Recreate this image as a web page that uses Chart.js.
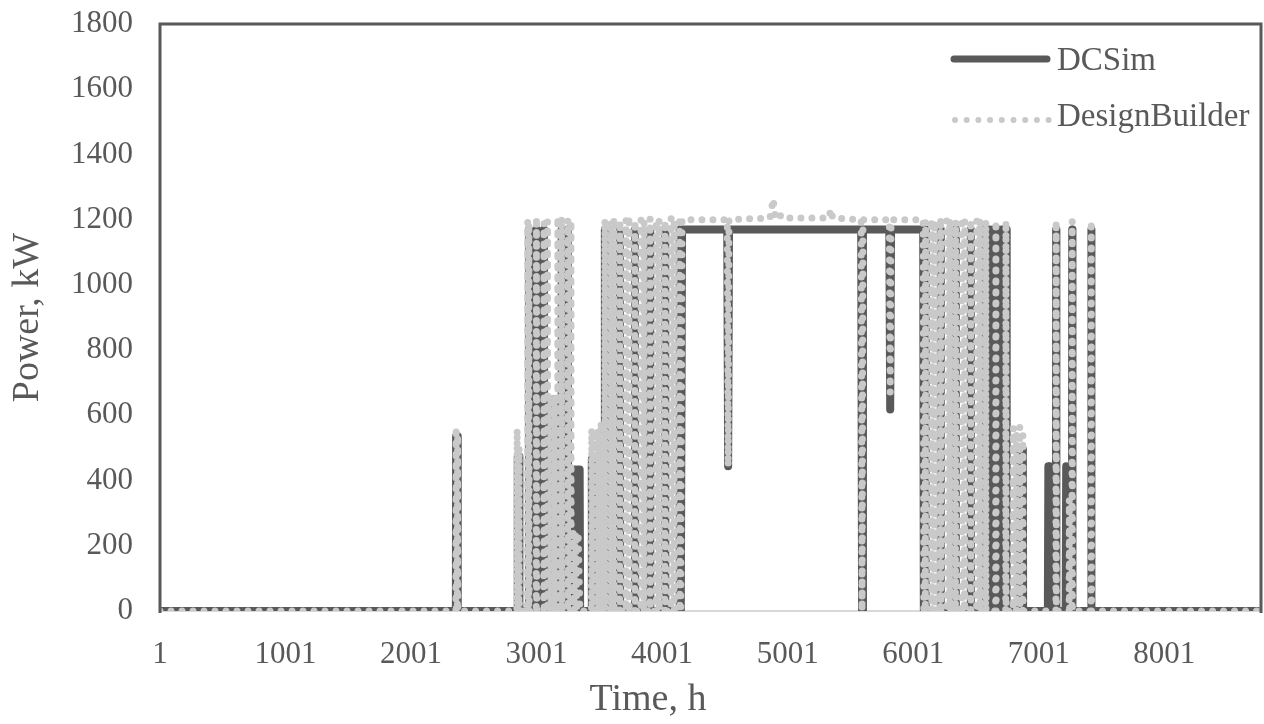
<!DOCTYPE html>
<html>
<head>
<meta charset="utf-8">
<script src="https://cdn.jsdelivr.net/npm/chart.js@4.4.1/dist/chart.umd.min.js"></script>
<style>
  html, body { margin: 0; padding: 0; background: #fff; }
  #wrap { width: 1264px; height: 724px; }
</style>
</head>
<body>
<div id="wrap"><canvas id="powerChart" width="1264" height="724"></canvas></div>
<script>
// x axis tick labels (hour of year)
const xTickValues = [1, 1001, 2001, 3001, 4001, 5001, 6001, 7001, 8001];

// DCSim: baseline, plateau and bar vertices (hour, kW)
const dcHours = [
  1,
  3282, 3288, 3298, 3308, 3318, 3328, 3338, 3344, 3348,
  4150, 4160, 4520, 4527, 4534, 5587, 5594, 5601, 5811, 5818, 5825, 6081, 6086,
  7074, 7078, 7084, 7088,
  7216, 7220, 7226, 7230,
  8760
];
const dcPower = [
  0,
  0, 434, 241, 434, 241, 434, 241, 434, 0,
  0, 1170, 1170, 444, 1170, 1170, 0, 1170, 1170, 618, 1170, 1170, 0,
  0, 444, 444, 0,
  0, 444, 444, 0,
  0
];
// DCSim: daily peaks (hour, kW)
const dcSpikeHours = [
  2360, 2372,
  2850, 2862,
  2940, 3000, 3060,
  3140, 3200, 3250,
  3440, 3490,
  3545, 3665, 3785, 3905, 4025, 4140,
  6100, 6220, 6340, 6460,
  6560, 6584, 6608, 6632, 6656, 6680, 6704, 6728, 6745,
  6850, 6875,
  7140, 7268, 7420
];
const dcSpikePeaks = [
  536, 536,
  474, 474,
  1170, 1170, 1170,
  650, 1170, 1170,
  465, 465,
  1170, 1170, 1170, 1170, 1170, 1170,
  1170, 1170, 1170, 1170,
  1170, 1170, 1170, 1170, 1170, 1170, 1170, 1170, 1170,
  496, 496,
  1170, 1170, 1170
];

// DesignBuilder: baseline, plateau and bar vertices (hour, kW)
const dbHours = [
  1,
  3284, 3292, 3302, 3312, 3322, 3332, 3346,
  4150, 4160, 4520, 4527, 4534, 4860, 4886, 4900, 4930, 4950, 5330, 5345, 5360,
  5587, 5594, 5601, 5811, 5818, 5825, 6081, 6086,
  8760
];
const dbPower = [
  0,
  0, 240, 0, 240, 0, 240, 0,
  0, 1200, 1200, 444, 1200, 1205, 1263, 1215, 1227, 1205, 1205, 1232, 1205,
  1200, 0, 1200, 1200, 670, 1200, 1200, 0,
  0
];
// DesignBuilder: daily peaks (hour, kW)
const dbSpikeHours = [
  2360, 2372,
  2846, 2862,
  2930, 2940, 3000, 3060, 3088,
  3115, 3140, 3170, 3200, 3250, 3275,
  3440, 3465, 3490, 3515,
  3545, 3593, 3617, 3665, 3713, 3737, 3785, 3833, 3857, 3905, 3953, 3977, 4025, 4073, 4097, 4140,
  6100, 6148, 6172, 6220, 6268, 6292, 6340, 6388, 6412, 6460, 6508, 6532,
  6580, 6660, 6740,
  6800, 6825, 6850, 6875,
  7140, 7245, 7268, 7420
];
const dbSpikePeaks = [
  563, 540,
  557, 502,
  1196, 1190, 1207, 1190, 1196,
  660, 660, 1207, 1207, 1200, 1196,
  557, 540, 557, 580,
  1200, 1196, 1205, 1196, 1200, 1210, 1196, 1200, 1196, 1205, 1196, 1200, 1196, 1205, 1200, 1196,
  1196, 1200, 1196, 1205, 1196, 1200, 1196, 1205, 1196, 1200, 1196, 1200,
  1196, 1196, 1196,
  563, 540, 563, 540,
  1196, 342, 1196, 1196
];

const serif = '"Liberation Serif", "Times New Roman", serif';
const textGray = '#595959';
const dcColor = '#595959';
const dbColor = '#c9c9c9';

// merge the vertices and the peaks (each peak: up and straight back down)
function buildSeries(hours, power, spikeHours, spikePeaks) {
  const pts = hours.map((h, i) => ({ x: h, y: power[i] }));
  spikeHours.forEach((h, i) => {
    pts.push({ x: h - 2, y: 0 }, { x: h, y: spikePeaks[i] }, { x: h + 2, y: 0 });
  });
  return pts.sort((a, b) => a.x - b.x);
}

// plot frame, x axis line, x title and the legend inside the plot
const frameAndLegend = {
  id: 'frameAndLegend',
  beforeDatasetsDraw(chart) {
    const { ctx, chartArea: a } = chart;
    ctx.save();
    ctx.strokeStyle = '#d9d9d9';
    ctx.lineWidth = 2;
    ctx.beginPath();
    ctx.moveTo(a.left, a.bottom);
    ctx.lineTo(a.right, a.bottom);
    ctx.stroke();
    ctx.restore();
  },
  afterDatasetsDraw(chart) {
    const { ctx, chartArea: a } = chart;
    ctx.save();
    ctx.strokeStyle = '#595959';
    ctx.lineWidth = 3;
    ctx.beginPath();
    ctx.moveTo(a.left, a.bottom + 2);
    ctx.lineTo(a.left, a.top);
    ctx.lineTo(a.right, a.top);
    ctx.lineTo(a.right, a.bottom + 2);
    ctx.stroke();

    // legend
    ctx.lineCap = 'round';
    ctx.strokeStyle = dcColor;
    ctx.lineWidth = 7;
    ctx.beginPath();
    ctx.moveTo(954, 59);
    ctx.lineTo(1047, 59);
    ctx.stroke();

    ctx.strokeStyle = dbColor;
    ctx.lineWidth = 6;
    ctx.setLineDash([0, 11.7]);
    ctx.beginPath();
    ctx.moveTo(955, 120);
    ctx.lineTo(1050, 120);
    ctx.stroke();
    ctx.setLineDash([]);

    ctx.fillStyle = textGray;
    ctx.font = '33px ' + serif;
    ctx.textBaseline = 'alphabetic';
    ctx.textAlign = 'left';
    ctx.fillText('DCSim', 1057, 70);
    ctx.fillText('DesignBuilder', 1057, 126);

    // x axis title (sits left of the plot centre in the original)
    ctx.font = '38px ' + serif;
    ctx.textAlign = 'center';
    ctx.textBaseline = 'middle';
    ctx.fillText('Time, h', 648, 700);
    ctx.restore();
  }
};

new Chart(document.getElementById('powerChart'), {
  type: 'line',
  data: {
    datasets: [
      {
        label: 'DCSim',
        data: buildSeries(dcHours, dcPower, dcSpikeHours, dcSpikePeaks),
        borderColor: dcColor,
        borderWidth: 8,
        borderJoinStyle: 'round',
        pointRadius: 0,
        tension: 0,
        order: 1
      },
      {
        label: 'DesignBuilder',
        data: buildSeries(dbHours, dbPower, dbSpikeHours, dbSpikePeaks),
        borderColor: dbColor,
        borderWidth: 7,
        borderDash: [0, 11],
        borderCapStyle: 'round',
        borderJoinStyle: 'round',
        pointRadius: 0,
        tension: 0,
        order: 0
      }
    ]
  },
  options: {
    responsive: false,
    animation: false,
    devicePixelRatio: 1,
    layout: { padding: { top: 24, right: 3, left: 0, bottom: 0 } },
    plugins: {
      legend: { display: false },
      tooltip: { enabled: false }
    },
    scales: {
      x: {
        type: 'linear',
        min: 1,
        max: 8772,
        afterBuildTicks: (scale) => {
          scale.ticks = xTickValues.map(v => ({ value: v }));
        },
        afterFit: (scale) => { scale.height = 113; },
        grid: { display: false, drawTicks: false },
        border: { display: false },
        ticks: {
          autoSkip: false,
          maxRotation: 0,
          padding: 25,
          color: textGray,
          font: { family: serif, size: 31 },
          callback: (v) => String(v)
        },
        title: { display: false }
      },
      y: {
        min: 0,
        max: 1800,
        afterFit: (scale) => {
          scale.width = 160;
          scale.paddingTop = 0;
          scale.paddingBottom = 0;
        },
        grid: { display: false, drawTicks: false },
        border: { display: false },
        ticks: {
          stepSize: 200,
          padding: 27,
          color: textGray,
          font: { family: serif, size: 31 },
          callback: (v) => String(v)
        },
        title: {
          display: true,
          text: 'Power, kW',
          color: textGray,
          font: { family: serif, size: 38 },
          padding: { top: 5, bottom: 0 }
        }
      }
    }
  },
  plugins: [frameAndLegend]
});
</script>
</body>
</html>
